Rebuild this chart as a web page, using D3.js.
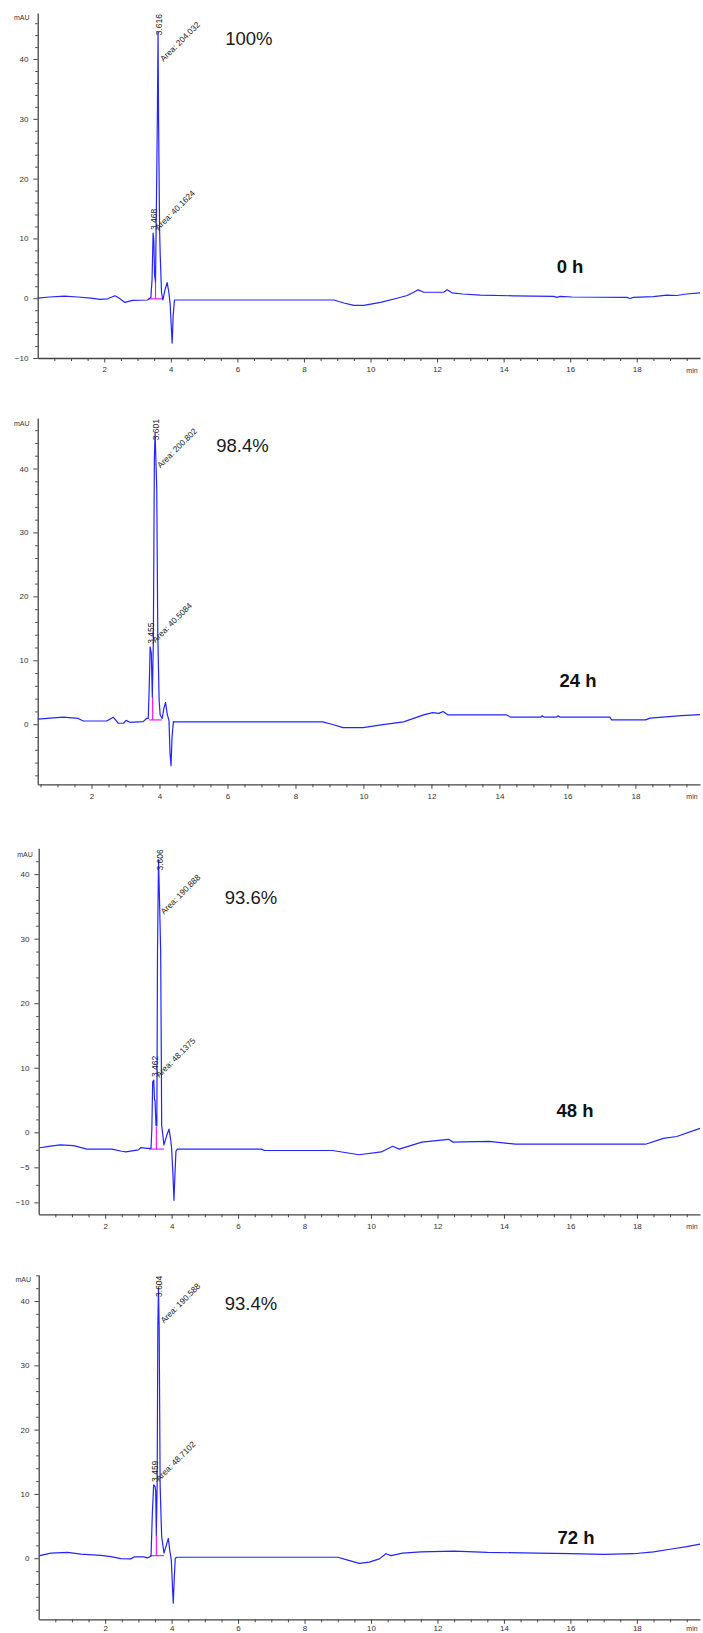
<!DOCTYPE html>
<html><head><meta charset="utf-8">
<script src="https://cdn.jsdelivr.net/npm/d3@7"></script>
<style>
html,body{margin:0;padding:0;background:#fff;}
svg{display:block;font-family:"Liberation Sans",Arial,sans-serif;}
</style></head><body>
<svg id="chart" width="703" height="1633"></svg>
<script>
// ---- data -------------------------------------------------------------
const sampleTimes = ["0 h", "24 h", "48 h", "72 h"];
const purity = ["100%", "98.4%", "93.6%", "93.4%"];

// integrated peaks per run: [main, minor]
const peakRT = [[3.616, 3.468], [3.601, 3.455], [3.606, 3.462], [3.604, 3.459]];
const peakArea = [["204.032", "40.1624"], ["200.802", "40.5084"], ["190.888", "48.1375"], ["190.588", "48.7102"]];
const peakAreaLevel = [[39.5, 11.3], [40.0, 12.7], [33.7, 8.4], [36.5, 11.9]]; // mAU height of the area note

// integration baseline: [start, end, level, drop time, drop top]
const integration = [
  [3.32, 3.74, -0.1, 3.54, 2.7],
  [3.43, 3.80, 0.67, 3.53, 4.2],
  [3.32, 3.77, -2.4, 3.54, 0.9],
  [3.35, 3.77, 0.4, 3.54, 3.6]
];

// time axis offset of each run (min)
const axisTimeShift = [0, 0.27, 0, 0];

const xDomains = [[0, 19.9], [0.418, 19.9], [0, 19.9], [0, 19.9]];
const yDomains = [[-10, 47.7], [-9.4, 47.9], [-11.7, 0, 44.0], [-9.5, 44.1]];
const xLabelTicks = [2, 4, 6, 8, 10, 12, 14, 16, 18];
const yLabelTicks = [
  [-10, 0, 10, 20, 30, 40],
  [0, 10, 20, 30, 40],
  [-10, -5, 0, 10, 20, 30, 40],
  [0, 10, 20, 30, 40]
];
const yMinorTicks = [
  [-8, -6, -4, -2, 2, 4, 6, 8, 12, 14, 16, 18, 22, 24, 26, 28, 32, 34, 36, 38, 42, 44, 46],
  [-8, -6, -4, -2, 2, 4, 6, 8, 12, 14, 16, 18, 22, 24, 26, 28, 32, 34, 36, 38, 42, 44, 46],
  [-7.5, -2.5, 2, 4, 6, 8, 12, 14, 16, 18, 22, 24, 26, 28, 32, 34, 36, 38, 42],
  [-8, -6, -4, -2, 2, 4, 6, 8, 12, 14, 16, 18, 22, 24, 26, 28, 32, 34, 36, 38, 42, 44]
];

// chromatograms: [time (min), signal (mAU)]
const trace0h = [
  [0.00, 0.0], [0.35, 0.2], [0.8, 0.35], [1.2, 0.2], [1.6, 0.0], [1.87, -0.2], [2.1, -0.1], [2.32, 0.4], [2.45, 0.0],
  [2.62, -0.7], [2.85, -0.35], [3.30, -0.3],
  [3.40, 0.1], [3.435, 3.0], [3.468, 10.9], [3.49, 9.6], [3.51, 4.0], [3.54, 2.7], [3.57, 17.3], [3.595, 30.0],
  [3.616, 44.6], [3.632, 29.6], [3.662, 11.6], [3.68, 7.4], [3.72, 1.0], [3.76, -0.3], [3.83, 1.5], [3.89, 2.6],
  [3.94, 1.0], [3.98, -1.0], [4.02, -5.5], [4.04, -7.5], [4.07, -3.0], [4.11, -0.3],
  [8.9, -0.3], [9.2, -0.8], [9.5, -1.2], [9.8, -1.2], [10.3, -0.7], [10.8, 0.0], [11.1, 0.45], [11.3, 1.0],
  [11.43, 1.4], [11.6, 1.0], [12.2, 1.0], [12.3, 1.4], [12.45, 0.9], [12.77, 0.7], [13.3, 0.5], [14.3, 0.4],
  [15.5, 0.3], [15.6, 0.15], [15.7, 0.3], [16.05, 0.2], [17.7, 0.15], [17.8, -0.05], [17.9, 0.15], [18.5, 0.25],
  [18.9, 0.5], [19.2, 0.45], [19.5, 0.7], [19.9, 0.9]
];
const trace24h = [
  [0.148, 0.78], [0.90, 1.1], [1.34, 0.9], [1.49, 0.5], [2.18, 0.5], [2.37, 1.1], [2.52, 0.15], [2.67, 0.15],
  [2.75, 0.6], [2.86, 0.3], [3.25, 0.4], [3.35, 0.9],
  [3.40, 0.9], [3.43, 6.0], [3.455, 12.1], [3.49, 11.1], [3.52, 4.2], [3.55, 13.2], [3.58, 41.6], [3.601, 45.5],
  [3.65, 36.9], [3.68, 14.2], [3.72, 3.8], [3.75, 1.45], [3.81, 0.9], [3.86, 2.5], [3.91, 3.4], [3.96, 1.5],
  [4.01, 0.6], [4.04, -4.5], [4.07, -6.5], [4.10, -2.0], [4.14, 0.4],
  [4.18, 0.36], [8.53, 0.36], [8.8, 0.0], [9.13, -0.53], [9.72, -0.53], [10.25, -0.1], [10.91, 0.36],
  [11.50, 1.45], [11.77, 1.8], [11.95, 1.7], [12.07, 2.0], [12.22, 1.45], [13.94, 1.45], [14.07, 1.1],
  [14.95, 1.1], [14.98, 1.3], [15.05, 1.1], [15.40, 1.1], [15.45, 1.3], [15.52, 1.1], [16.98, 1.1], [17.03, 0.67],
  [18.03, 0.67], [18.16, 0.95], [19.08, 1.35], [19.63, 1.5]
];
const trace48h = [
  [0.03, -2.2], [0.3, -2.0], [0.65, -1.8], [1.05, -1.9], [1.45, -2.4], [2.2, -2.4], [2.5, -2.7], [2.62, -2.8],
  [3.0, -2.5], [3.07, -2.2], [3.26, -2.3],
  [3.38, -2.3], [3.405, 0.5], [3.43, 7.8], [3.462, 8.1], [3.485, 5.0], [3.50, 5.0], [3.53, 1.1], [3.555, 1.0],
  [3.575, 28.0], [3.606, 42.2], [3.64, 35.0], [3.67, 28.0], [3.69, 11.7], [3.70, 1.1], [3.77, -1.8], [3.85, -0.5],
  [3.92, 0.5], [3.97, -1.0], [4.00, -2.3], [4.04, -6.0], [4.07, -9.7], [4.10, -6.0], [4.13, -2.7], [4.17, -2.4],
  [6.7, -2.4], [6.8, -2.6], [8.84, -2.6], [9.64, -3.2], [10.31, -2.8], [10.65, -2.0], [10.85, -2.4],
  [11.53, -1.4], [12.33, -1.0], [12.47, -1.4], [13.55, -1.3], [14.35, -1.7], [18.26, -1.7], [18.8, -0.86],
  [19.2, -0.6], [19.9, 0.6]
];
const trace72h = [
  [0.03, 0.4], [0.37, 0.8], [0.87, 0.9], [1.27, 0.65], [1.87, 0.45], [2.17, 0.25], [2.47, -0.05], [2.77, -0.1],
  [2.87, 0.2], [3.17, 0.2], [3.27, 0.05],
  [3.38, 0.3], [3.42, 7.0], [3.459, 11.4], [3.50, 11.2], [3.52, 10.5], [3.54, 3.6], [3.565, 11.7], [3.585, 36.0],
  [3.604, 42.0], [3.625, 36.0], [3.655, 11.1], [3.70, 3.4], [3.77, 0.8], [3.84, 2.0], [3.90, 3.1], [3.95, 1.0],
  [3.99, -0.25], [4.03, -5.0], [4.05, -7.0], [4.08, -3.0], [4.11, 0.0], [4.16, 0.15],
  [9.0, 0.15], [9.3, -0.3], [9.65, -0.8], [9.95, -0.6], [10.25, -0.1], [10.45, 0.7], [10.6, 0.4], [10.95, 0.8],
  [11.5, 1.0], [12.5, 1.1], [13.5, 0.9], [15.0, 0.8], [16.0, 0.7], [17.0, 0.6], [17.9, 0.7], [18.5, 1.0],
  [19.0, 1.4], [19.5, 1.8], [19.9, 2.2]
];
const traces = [trace0h, trace24h, trace48h, trace72h];

// ---- layout (page pixels) ---------------------------------------------
const frames = [
  {left: 37.7, right: 700, top: 13,     bottom: 358,    zero: null,   pad: 4.3},
  {left: 37.7, right: 700, top: 418,    bottom: 784.3,  zero: null,   pad: 4.3},
  {left: 38.7, right: 700, top: 848.3,  bottom: 1214.3, zero: 1132.3, pad: 4.3},
  {left: 38.7, right: 700, top: 1274.7, bottom: 1619.3, zero: null,   pad: 1.4}
];
const unitPos = [[21.7, 20], [21.7, 425.5], [25, 856.8], [23.3, 1282]];
const purityPos = [[248.8, 45], [242.5, 451.7], [251, 904.3], [251, 1310]];
const samplePos = [[570, 273.3], [578, 687], [575, 1116.7], [576, 1544]];

const blue = "#2424ff", axisColor = "#444", textColor = "#333";
const svg = d3.select("#chart");
svg.append("rect").attr("width", 703).attr("height", 1633).attr("fill", "#fff");

frames.forEach((f, i) => {
  const g = svg.append("g");
  const x = d3.scaleLinear().domain(xDomains[i]).range([f.left, f.right]);
  const yd = yDomains[i];
  const y = yd.length === 3
    ? d3.scaleLinear().domain(yd).range([f.bottom, f.zero, f.top])
    : d3.scaleLinear().domain(yd).range([f.bottom, f.top]);
  const shift = axisTimeShift[i];

  // minor x ticks every 0.5 min
  const xMinor = d3.range(Math.ceil(xDomains[i][0] * 2) / 2, xDomains[i][1], 0.5)
    .filter(v => v > xDomains[i][0] + 0.05 && xLabelTicks.indexOf(v) < 0);
  g.append("g").attr("transform", `translate(0,${f.bottom})`)
    .call(d3.axisBottom(x).tickValues(xMinor).tickSize(3).tickFormat("").tickSizeOuter(0))
    .call(a => a.select(".domain").remove());
  const xa = g.append("g").attr("transform", `translate(0,${f.bottom})`)
    .call(d3.axisBottom(x).tickValues(xLabelTicks).tickSize(4.5).tickPadding(f.pad).tickSizeOuter(0).tickFormat(d3.format("d")));
  xa.select(".domain").attr("stroke", axisColor).attr("stroke-width", 1.3);

  // y axis
  g.append("g").attr("transform", `translate(${f.left},0)`)
    .call(d3.axisLeft(y).tickValues(yMinorTicks[i]).tickSize(2.5).tickFormat("").tickSizeOuter(0))
    .call(a => a.select(".domain").remove());
  const ya = g.append("g").attr("transform", `translate(${f.left},0)`)
    .call(d3.axisLeft(y).tickValues(yLabelTicks[i]).tickSize(4.3).tickPadding(5).tickSizeOuter(0).tickFormat(d3.format("d")));
  ya.select(".domain").attr("stroke", axisColor).attr("stroke-width", 1.3);

  g.selectAll(".tick line").attr("stroke", axisColor).attr("stroke-width", 1);
  g.selectAll(".tick text").attr("fill", textColor).style("font-size", "8px")
    .style("font-family", '"Liberation Sans", Arial, sans-serif');

  // axis units
  g.append("text").attr("x", f.right - 8).attr("y", f.bottom + 4.5 + f.pad + 5.7)
    .attr("text-anchor", "middle").attr("fill", textColor).style("font-size", "7px").text("min");
  g.append("text").attr("x", unitPos[i][0]).attr("y", unitPos[i][1])
    .attr("text-anchor", "middle").attr("fill", textColor).style("font-size", "7px").text("mAU");

  // integration baseline and drop line
  const [s, e, lvl, dt, dtop] = integration[i];
  g.append("line").attr("x1", x(s + shift)).attr("x2", x(e + shift)).attr("y1", y(lvl)).attr("y2", y(lvl))
    .attr("stroke", "#ff00ff").attr("stroke-width", 1.1);
  g.append("line").attr("x1", x(dt + shift)).attr("x2", x(dt + shift)).attr("y1", y(lvl)).attr("y2", y(dtop))
    .attr("stroke", "#ff00ff").attr("stroke-width", 1.1);

  // chromatogram
  const line = d3.line().x(d => x(d[0] + shift)).y(d => y(d[1]));
  g.append("path").datum(traces[i]).attr("d", line)
    .attr("fill", "none").attr("stroke", blue).attr("stroke-width", 1.2).attr("stroke-linejoin", "round");

  // peak annotations
  const rtSize = 8.5, areaSize = 8.3;
  peakRT[i].forEach((rt, k) => {
    const tr = traces[i];
    const apex = tr.reduce((m, d) => Math.abs(d[0] - rt) < Math.abs(m[0] - rt) ? d : m, tr[0]);
    const px = x(rt + shift);
    const label = rt.toFixed(3);
    const len = 2.5 * rtSize;
    const bottom = Math.max(y(apex[1]) - 3, f.top + len + 1);
    g.append("text")
      .attr("transform", `translate(${px + 1},${bottom}) rotate(-90)`)
      .attr("dy", "0.35em").attr("fill", "#222").style("font-size", rtSize + "px").text(label);
    g.append("text")
      .attr("transform", `translate(${px + 5.5},${y(peakAreaLevel[i][k])}) rotate(-45)`)
      .attr("fill", "#222").style("font-size", areaSize + "px").text("Area: " + peakArea[i][k]);
  });

  // sample annotations
  g.append("text").attr("x", purityPos[i][0]).attr("y", purityPos[i][1]).attr("text-anchor", "middle")
    .attr("fill", "#1a1a1a").style("font-size", "18.5px").text(purity[i]);
  g.append("text").attr("x", samplePos[i][0]).attr("y", samplePos[i][1]).attr("text-anchor", "middle")
    .attr("fill", "#111").style("font-size", "18.5px").style("font-weight", "bold").text(sampleTimes[i]);
});
</script>
</body></html>
